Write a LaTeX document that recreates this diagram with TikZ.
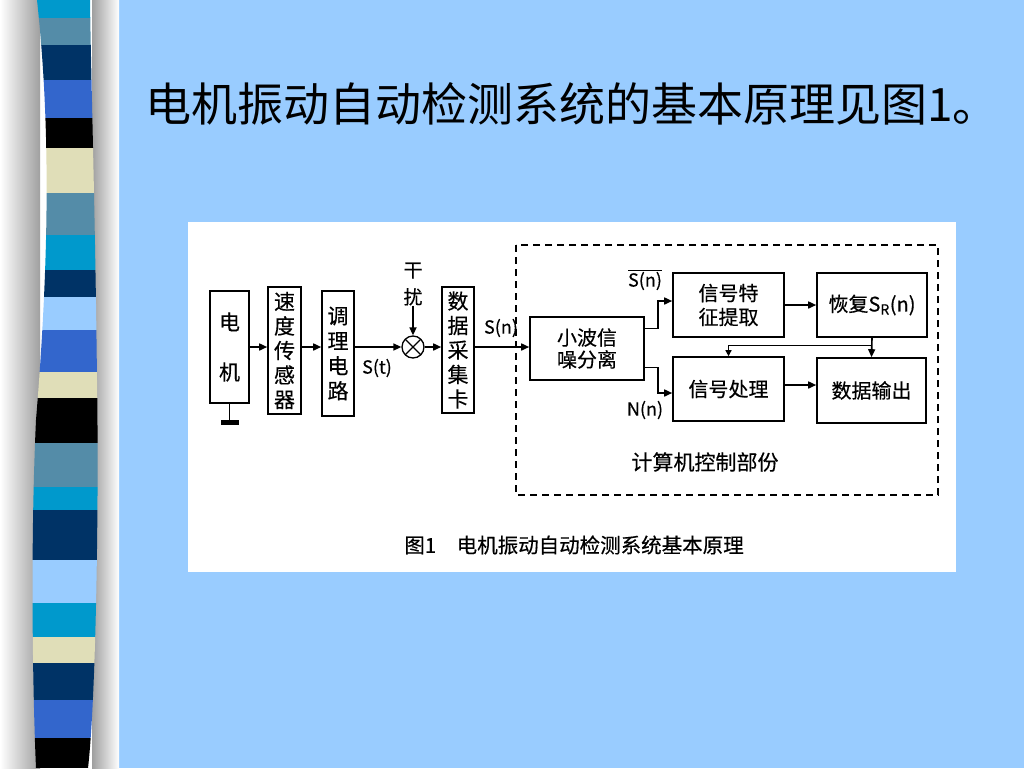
\documentclass[tikz,border=0pt]{standalone}
\usepackage{fontspec}
\newfontfamily\cjk{Noto Sans CJK SC}
\newfontfamily\cjkfig[FakeBold=0.4]{Noto Sans CJK SC}
\usetikzlibrary{arrows.meta}

\definecolor{slideBlue}{RGB}{153,204,255}
\definecolor{stripeCyan}{RGB}{0,153,204}
\definecolor{stripeSteel}{RGB}{84,140,168}
\definecolor{stripeNavy}{RGB}{0,51,102}
\definecolor{stripeRoyal}{RGB}{51,102,204}
\definecolor{stripeCream}{RGB}{224,222,184}
\definecolor{stripeSky}{RGB}{153,204,255}

\begin{document}
\begin{tikzpicture}[x=1pt, y=-1pt,
    box/.style={draw, line width=1.6pt, inner sep=0pt, align=center,
        font=\cjkfig\fontsize{20}{24}\selectfont},
    tag/.style={inner sep=0pt, align=center, font=\cjkfig\fontsize{18}{27}\selectfont},
    wire/.style={line width=1.6pt},
    arr/.style={line width=1.6pt, -{Triangle[length=8pt,width=7pt]}}]

    \useasboundingbox (0,0) rectangle (1024,768);

    % Slide background
    \fill[slideBlue] (0,0) rectangle (1024,768);
    \fill[white] (0,0) rectangle (119,768);
    \shade[left color=white, right color=gray!75] (0,0) rectangle (40,768);
    \shade[left color=gray!75, right color=white] (92,0) rectangle (119,768);

    % Striped bar on the left
    \begin{scope}
        \clip (37,0) .. controls (50,120) and (50,250) .. (36,420)
            .. controls (30,550) and (33,700) .. (36,768) -- (88,768)
            .. controls (96,700) and (99,500) .. (97,380)
            .. controls (95,200) and (91,80) .. (90,0) -- cycle;
        \foreach \top/\bot/\col in {0/18/stripeCyan, 18/45/stripeSteel, 45/80/stripeNavy,
            80/118/stripeRoyal, 118/148/black, 148/193/stripeCream, 193/235/stripeSteel,
            235/270/stripeCyan, 270/297/stripeNavy, 297/330/stripeSky, 330/372/stripeRoyal,
            372/398/stripeCream, 398/443/black, 443/487/stripeSteel, 487/510/stripeCyan,
            510/560/stripeNavy, 560/603/stripeSky, 603/637/stripeCyan, 637/663/stripeCream,
            663/700/stripeNavy, 700/738/stripeRoyal, 738/768/black}
            \fill[\col] (25,\top) rectangle (105,\bot);
    \end{scope}

    % Title
    \node[anchor=west, inner sep=0pt, font=\cjk\fontsize{46}{50}\selectfont] (title) at (145,104)
        {电机振动自动检测系统的基本原理见图1。};

    % White figure panel
    \fill[white] (188,222) rectangle (956,572);

    % Blocks of the measuring chain
    \node[box, minimum width=39pt, minimum height=112pt, font=\cjkfig\fontsize{21}{50}\selectfont]
        (motor) at (229.5,347) {电\\机};
    \node[box, minimum width=33pt, minimum height=127pt, font=\cjkfig\fontsize{21}{24.5}\selectfont]
        (sensor) at (284.5,350.5) {速\\度\\传\\感\\器};
    \node[box, minimum width=32pt, minimum height=125pt, font=\cjkfig\fontsize{21}{25}\selectfont]
        (cond) at (338,353.5) {调\\理\\电\\路};
    \node[circle, draw, line width=1.3pt, minimum size=22pt, inner sep=0pt,
        path picture={\draw[line width=1.3pt]
            (path picture bounding box.north west) -- (path picture bounding box.south east)
            (path picture bounding box.north east) -- (path picture bounding box.south west);}]
        (mixer) at (413,347) {};
    \node[box, minimum width=32pt, minimum height=126pt, font=\cjkfig\fontsize{21}{24.5}\selectfont]
        (daq) at (458,350) {数\\据\\采\\集\\卡};

    % Blocks of the computer part
    \node[box, minimum width=114pt, minimum height=63pt, font=\cjkfig\fontsize{20}{22}\selectfont]
        (wavelet) at (587,348.5) {小波信\\噪分离};
    \node[box, minimum width=111pt, minimum height=64pt] (feature) at (728.5,305) {信号特\\征提取};
    \node[box, minimum width=110pt, minimum height=64pt] (restore) at (872,305) {恢复S\textsubscript{R}(n)};
    \node[box, minimum width=111pt, minimum height=64pt] (proc) at (728.5,389) {信号处理};
    \node[box, minimum width=109pt, minimum height=65pt] (output) at (871.5,390.5) {数据输出};

    % Dashed frame of the computer part
    \draw[line width=1.6pt, dash pattern=on 7pt off 5pt] (516,245) rectangle (938,495);
    \node[tag, font=\cjkfig\fontsize{21}{24}\selectfont] (pc) at (705,462) {计算机控制部份};

    % Labels
    \node[tag, font=\cjkfig\fontsize{19}{27}\selectfont] (noise) at (413,284) {干\\扰};
    \node[tag] (st) at (377,368) {S(t)};
    \node[tag] (sn) at (501,328) {S(n)};
    \node[tag] (sbar) at (645,280) {$\overline{\mbox{S(n)}}$};
    \node[tag] (nn) at (645,410) {N(n)};
    \node[tag, font=\cjkfig\fontsize{20.5}{24}\selectfont] (caption) at (574,545)
        {图1\quad 电机振动自动检测系统基本原理};

    % Ground under the motor
    \coordinate (gnd) at (229.5,420);
    \draw[wire] (motor.south) -- (gnd);
    \fill ([xshift=-9pt]gnd) rectangle ([xshift=9pt,yshift=-5pt]gnd);

    % Signal chain arrows
    \draw[arr] (motor.east) -- (sensor.west |- motor);
    \draw[arr] (sensor.east |- motor) -- (cond.west |- motor);
    \draw[arr] (cond.east |- motor) -- (mixer.west);
    \draw[arr] (noise.south) -- (mixer.north);
    \draw[arr] (mixer.east) -- (daq.west |- motor);
    \draw[arr] (daq.east |- motor) -- (wavelet.west |- motor);

    % Split into signal and noise
    \draw[arr] ([yshift=20pt]wavelet.east) -- ++(13,0) |- ([yshift=4pt]feature.west);
    \draw[arr] ([yshift=-19pt]wavelet.east) -- ++(13,0) |- ([yshift=-4pt]proc.west);

    % Processing arrows
    \draw[arr] (feature.east) -- (restore.west);
    \draw[arr] ([yshift=4pt]proc.east) -- ([yshift=4pt]proc.east -| output.west);
    \coordinate (tap) at ([yshift=-8pt]restore.south);
    \draw[arr] (restore.south) -- (output.north);
    \draw[line width=1.3pt, -{Triangle[length=6pt,width=6pt]}] (tap) -| (proc.north);

\end{tikzpicture}
\end{document}
